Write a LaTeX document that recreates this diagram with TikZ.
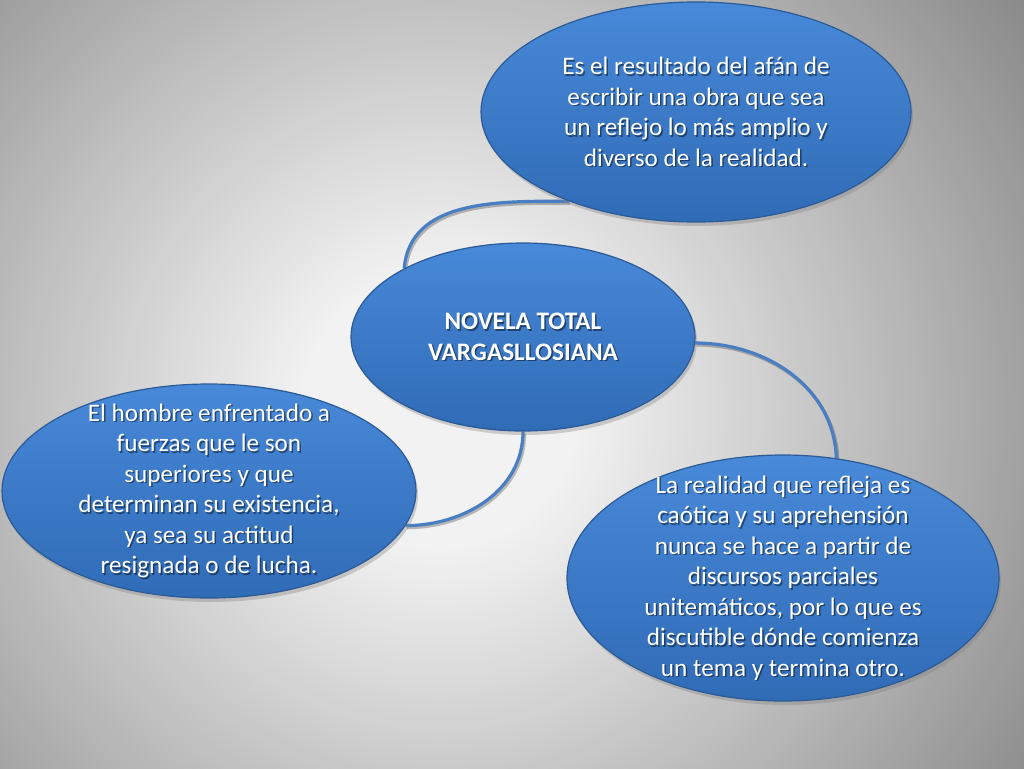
\documentclass[tikz,border=0pt]{standalone}
\usepackage{fontspec}
\setmainfont{Carlito}
\usetikzlibrary{shapes.geometric,shadows}
\definecolor{bgin}{HTML}{F2F2F2}
\definecolor{bgout}{HTML}{888888}
\definecolor{eltop}{HTML}{4889D9}
\definecolor{elbot}{HTML}{306BB6}
\definecolor{elborder}{HTML}{2B5A96}
\definecolor{linkblue}{HTML}{4A7EC2}
\pgfdeclarelayer{back}
\pgfdeclarelayer{links}
\pgfsetlayers{back,links,main}
\tikzset{
  bubble/.style={ellipse, draw=elborder, line width=1.2pt, top color=eltop, bottom color=elbot,
    inner sep=0pt, drop shadow={shadow xshift=2pt, shadow yshift=-4pt, opacity=0.35}},
  btext/.style={text=white, align=center, font=\fontsize{25.2}{30.5}\selectfont, inner sep=0pt},
  bshadow/.style={text=black, opacity=0.45, align=center, font=\fontsize{25.2}{30.5}\selectfont, inner sep=0pt},
  link/.style={draw=linkblue, line width=3.2pt},
  linkshadow/.style={draw=black, opacity=0.25, line width=3.2pt}
}
\begin{document}
\begin{tikzpicture}[x=1pt,y=-1pt]
\useasboundingbox (0,0) rectangle (1024,768);
\begin{pgfonlayer}{back}
  \begin{scope}
    \clip (0,0) rectangle (1024,768);
    \fill[bgout] (0,0) rectangle (1024,768);
    \foreach \r in {780,775,...,140} {
      \pgfmathsetmacro{\p}{max(0,min(100,100-(\r-140)*0.17))}
      \fill[bgin!\p!bgout] (440,410) circle (\r);
    }
  \end{scope}
\end{pgfonlayer}

% ellipses
\node[bubble, minimum width=430, minimum height=220] (top) at (696,112) {};
\node[bubble, minimum width=344, minimum height=188] (mid) at (523,337) {};
\node[bubble, minimum width=414, minimum height=214] (left) at (209,491) {};
\node[bubble, minimum width=432, minimum height=246] (right) at (783,578) {};

% connectors
\begin{pgfonlayer}{links}
  \draw[linkshadow, transform canvas={xshift=1.5pt,yshift=-2pt}] (top.215) to[out=180,in=85] (mid.150);
  \draw[link] (top.215) to[out=180,in=85] (mid.150);
  \draw[linkshadow, transform canvas={xshift=1.5pt,yshift=-2pt}] (mid.358) to[out=0,in=92] (right.66);
  \draw[link] (mid.358) to[out=0,in=92] (right.66);
  \draw[linkshadow, transform canvas={xshift=1.5pt,yshift=-2pt}] (mid.south) to[out=270,in=0] (left.-10);
  \draw[link] (mid.south) to[out=270,in=0] (left.-10);
\end{pgfonlayer}

% texts (shadow + white)
\node[bshadow] (ts1) at ([xshift=1.5pt,yshift=-1.5pt]top.center) {Es el resultado del afán de\\escribir una obra que sea\\un reflejo lo más amplio y\\diverso de la realidad.};
\node[btext] (t1) at (top.center) {Es el resultado del afán de\\escribir una obra que sea\\un reflejo lo más amplio y\\diverso de la realidad.};

\node[bshadow, font=\fontsize{25.2}{30.5}\selectfont\bfseries] (ts2) at ([xshift=1.5pt,yshift=-1.5pt]mid.center) {NOVELA TOTAL\\VARGASLLOSIANA};
\node[btext, font=\fontsize{25.2}{30.5}\selectfont\bfseries] (t2) at (mid.center) {NOVELA TOTAL\\VARGASLLOSIANA};

\node[bshadow] (ts3) at ([xshift=1.5pt,yshift=-1.5pt]left.center) {El hombre enfrentado a\\fuerzas que le son\\superiores y que\\determinan su existencia,\\ya sea su actitud\\resignada o de lucha.};
\node[btext] (t3) at (left.center) {El hombre enfrentado a\\fuerzas que le son\\superiores y que\\determinan su existencia,\\ya sea su actitud\\resignada o de lucha.};

\node[bshadow] (ts4) at ([xshift=1.5pt,yshift=-1.5pt]right.center) {La realidad que refleja es\\caótica y su aprehensión\\nunca se hace a partir de\\discursos parciales\\unitemáticos, por lo que es\\discutible dónde comienza\\un tema y termina otro.};
\node[btext] (t4) at (right.center) {La realidad que refleja es\\caótica y su aprehensión\\nunca se hace a partir de\\discursos parciales\\unitemáticos, por lo que es\\discutible dónde comienza\\un tema y termina otro.};
\end{tikzpicture}
\end{document}
